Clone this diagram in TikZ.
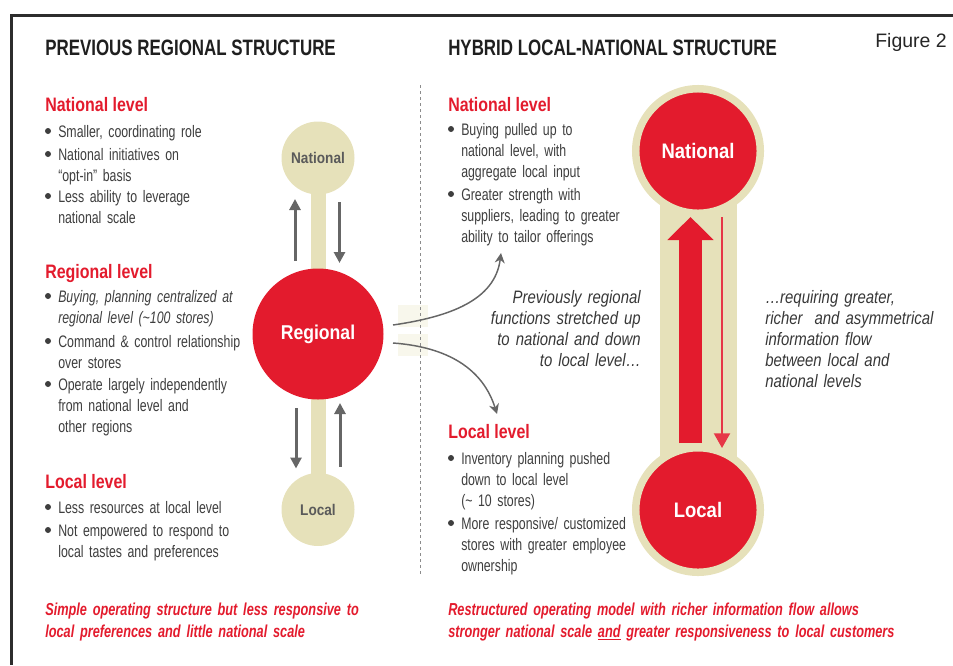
\documentclass[tikz,border=0pt]{standalone}
\usepackage{fontspec}
\setmainfont{Liberation Sans}
\newfontfamily\bodyf{Liberation Sans}[FakeStretch=0.74]
\newfontfamily\headf{Liberation Sans}[FakeStretch=0.82]
\newfontfamily\titlef{Liberation Sans}[FakeStretch=0.76]
\newfontfamily\notef{Liberation Sans}[FakeStretch=0.83]
\newfontfamily\sumf{Liberation Sans}[FakeStretch=0.735]
\newfontfamily\lblf{Liberation Sans}[FakeStretch=0.88]
\newfontfamily\figf{Liberation Sans}
\usetikzlibrary{arrows.meta,calc}

\definecolor{brandred}{RGB}{227,27,45}
\definecolor{sand}{RGB}{230,225,186}
\definecolor{sandlight}{RGB}{248,247,236}
\definecolor{txtgray}{RGB}{62,62,62}
\definecolor{notegray}{RGB}{55,55,55}
\definecolor{lblgray}{RGB}{90,90,90}
\definecolor{arrgray}{RGB}{102,102,102}
\definecolor{framegray}{RGB}{45,45,45}
\definecolor{dashgray}{RGB}{140,140,140}

% bullet item: name, x of text, baseline y, text
\newcommand\mybul[4]{%
  \node[body] (#1) at (#2,#3) {#4};
  \fill[txtgray] ($(#1.base west)+(-10,-6)$) circle[radius=3];
}

\begin{document}
\begin{tikzpicture}[x=0.75pt,y=-0.75pt,
  body/.style={font=\bodyf\fontsize{12.5}{15.75}\selectfont, text=txtgray,
    inner sep=0pt, anchor=base west, text width=180pt, align=left},
  head/.style={font=\headf\bfseries\fontsize{14.6}{17}\selectfont, text=brandred,
    inner sep=0pt, anchor=base west},
  title/.style={font=\titlef\bfseries\fontsize{16.7}{20}\selectfont, text=black!88,
    inner sep=0pt, anchor=base west},
  note/.style={font=\notef\itshape\fontsize{13.5}{15.75}\selectfont, text=notegray,
    inner sep=0pt, text width=150pt},
  summary/.style={font=\sumf\bfseries\itshape\fontsize{13}{16.5}\selectfont, text=brandred,
    inner sep=0pt, anchor=base west, text width=360pt, align=left},
  smallball/.style={circle, fill=sand, minimum size=54.75pt, inner sep=0pt,
    font=\lblf\bfseries\fontsize{11.6}{13}\selectfont, text=lblgray},
  redball/.style={circle, fill=brandred, inner sep=0pt, text=white,
    font=\lblf\bfseries\fontsize{15.75}{18}\selectfont},
  ringball/.style={redball, draw=sand, line width=5.625pt, minimum size=93.4pt},
  garrow/.style={draw=arrgray, line width=2.25pt, -{Triangle[width=8.25pt,length=8.25pt]}},
  carrow/.style={draw=arrgray, line width=1.1pt, -{Stealth[length=7.5pt,width=7.5pt]}},
  bigarr/.style={draw=brandred, line width=17.25pt, -{Triangle[width=33.75pt,length=17.25pt]}},
  thinarr/.style={draw=brandred!88!white, line width=1.5pt, -{Triangle[width=12pt,length=11pt]}}
]
\useasboundingbox (0,0) rectangle (953,665);

% frame
\draw[framegray, line width=2.25pt] (953,15.6) -- (11,15.6) -- (11,665);

% headings
\node[title] (t1) at (45,55) {PREVIOUS REGIONAL STRUCTURE};
\node[title] (t2) at (448,55) {HYBRID LOCAL-NATIONAL STRUCTURE};
\node[font=\figf\fontsize{14.6}{17}\selectfont, text=black!85, inner sep=0pt, anchor=base east]
  (fig) at (947,47) {Figure 2};

% separator between the two halves
\fill[sandlight] (398,305) rectangle (428,327);
\fill[sandlight] (398,334) rectangle (428,356);
\coordinate (dtop) at (420,85);
\coordinate (dbot) at (420,576);
\draw[dashgray, line width=0.75pt, dash pattern=on 2.25pt off 2.25pt] (dtop) -- (dbot);

% ---------- left: previous regional structure ----------
\node[head] (lnh) at (45,111) {National level};
\mybul{ln1}{58}{137}{Smaller, coordinating role}
\mybul{ln2}{58}{160}{National initiatives on\\“opt-in” basis}
\mybul{ln3}{58}{202}{Less ability to leverage\\national scale}

\node[head] (lrh) at (45,278) {Regional level};
\mybul{lr1}{58}{302}{\itshape Buying, planning centralized at\\regional level (\textasciitilde100 stores)}
\mybul{lr2}{58}{347}{Command \& control relationship\\over stores}
\mybul{lr3}{58}{390}{Operate largely independently\\from national level and\\other regions}

\node[head] (llh) at (45,488) {Local level};
\mybul{ll1}{58}{513}{Less resources at local level}
\mybul{ll2}{58}{536}{Not empowered to respond to\\local tastes and preferences}

\node[summary] (lsum) at (45,615) {Simple operating structure but less responsive to\\local preferences and little national scale};

% left diagram
\coordinate (cNatL) at (318,158);
\coordinate (cReg) at (318,334);
\coordinate (cLocL) at (318,509.5);
\fill[sand] ($(cNatL)+(-7.5,0)$) rectangle ($(cLocL)+(7.5,0)$);
\node[smallball] (natL) at (cNatL) {National};
\node[smallball] (locL) at (cLocL) {Local};
\node[redball, minimum size=98.25pt, font=\lblf\bfseries\fontsize{15}{18}\selectfont]
  (reg) at (cReg) {Regional};

\draw[garrow] ($(reg.center)+(-23,-73)$) -- ($(natL.center)+(-23,41)$);
\draw[garrow] ($(natL.center)+(21.5,44)$) -- ($(reg.center)+(21.5,-71)$);
\draw[garrow] ($(reg.center)+(-22,74)$) -- ($(locL.center)+(-22,-41)$);
\draw[garrow] ($(locL.center)+(22,-43)$) -- ($(reg.center)+(22,69)$);

% ---------- right: hybrid local-national structure ----------
\node[head] (rnh) at (448,111) {National level};
\mybul{rn1}{461}{135}{Buying pulled up to\\national level, with\\aggregate local input}
\mybul{rn2}{461}{200}{Greater strength with\\suppliers, leading to greater\\ability to tailor offerings}

\node[head] (rlh) at (448,438) {Local level};
\mybul{rl1}{461}{464}{Inventory planning pushed\\down to local level\\(\textasciitilde{} 10 stores)}
\mybul{rl2}{461}{529}{More responsive/ customized\\stores with greater employee\\ownership}

\node[summary] (rsum) at (448,615) {Restructured operating model with richer information flow allows\\stronger national scale \underline{and} greater responsiveness to local customers};

\node[note, anchor=base east, align=right] (n1) at (641,303)
  {Previously regional\\functions stretched up\\to national and down\\to local level…};
\node[note, anchor=base west, align=left] (n2) at (765,303)
  {…requiring greater,\\richer\ \ and asymmetrical\\information flow\\between local and\\national levels};

% curved arrows from the regional circle
\coordinate (upEnd) at (501,253);
\coordinate (dnEnd) at (497,414);
\draw[carrow] ($(reg.center)+(75,-9)$) .. controls +(55,-8) and +(-6,48) .. (upEnd);
\draw[carrow] ($(reg.center)+(75,9)$) .. controls +(55,4) and +(-14,-45) .. (dnEnd);

% right diagram
\coordinate (cNatR) at (698,151);
\coordinate (cLocR) at (698,510);
\fill[sand] ($(cNatR)+(-38.5,0)$) rectangle ($(cLocR)+(38.5,0)$);
\node[ringball] (natR) at (cNatR) {National};
\node[ringball] (locR) at (cLocR) {Local};

\draw[bigarr] ($(locR.center)+(-7.5,-67)$) -- ($(natR.center)+(-7.5,66)$);
\draw[thinarr] ($(natR.center)+(24,66)$) -- ($(locR.center)+(24,-62)$);
\end{tikzpicture}
\end{document}
